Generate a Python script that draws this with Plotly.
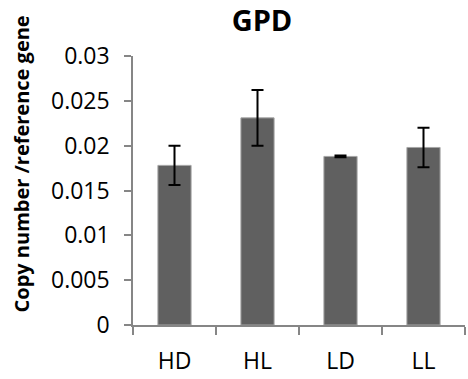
import plotly.graph_objects as go

categories = ["HD", "HL", "LD", "LL"]
values = [0.0178, 0.0231, 0.0188, 0.0198]
errors = [0.0022, 0.0031, 0.0001, 0.0022]
y_ticks = [0, 0.005, 0.01, 0.015, 0.02, 0.025, 0.03]
y_tick_labels = ["0", "0.005", "0.01", "0.015", "0.02", "0.025", "0.03"]

fig = go.Figure(go.Bar(
    x=categories, y=values, width=0.4,
    marker=dict(color="#606060", line=dict(color="#a6a6a6", width=1)),
    error_y=dict(type="data", array=errors, visible=True,
                 color="black", thickness=2, width=6),
))

font = "Open Sans, Liberation Sans, sans-serif"
fig.update_layout(
    width=468, height=379,
    margin=dict(l=133, r=3, t=56, b=54),
    paper_bgcolor="white", plot_bgcolor="white",
    showlegend=False,
    font=dict(family=font, color="black"),
    title=dict(text="<b>GPD</b>", x=262 / 468, xanchor="center",
               y=1 - 21 / 379, yanchor="middle",
               font=dict(size=29, family=font, color="black")),
    xaxis=dict(showline=True, linecolor="#868686", linewidth=1.5,
               ticks="outside", ticklen=8, tickcolor="#868686",
               tickson="boundaries", tickwidth=1.5, ticklabelstandoff=15,
               tickfont=dict(size=23, family=font), showgrid=False),
    yaxis=dict(range=[0, 0.03], tickvals=y_ticks, ticktext=y_tick_labels,
               showline=True, linecolor="#868686", linewidth=1.5,
               ticks="outside", ticklen=7, tickcolor="#868686", tickwidth=1.5,
               ticklabelstandoff=10,
               tickfont=dict(size=23, family=font), showgrid=False,
               zeroline=False),
    annotations=[dict(text="<b>Copy number /reference gene</b>",
                      xref="paper", yref="paper", x=0, y=0.5,
                      xshift=-112, yshift=26, textangle=-90,
                      showarrow=False, xanchor="center", yanchor="middle",
                      font=dict(size=20, family=font, color="black"))],
)

fig.write_html("out.html")
